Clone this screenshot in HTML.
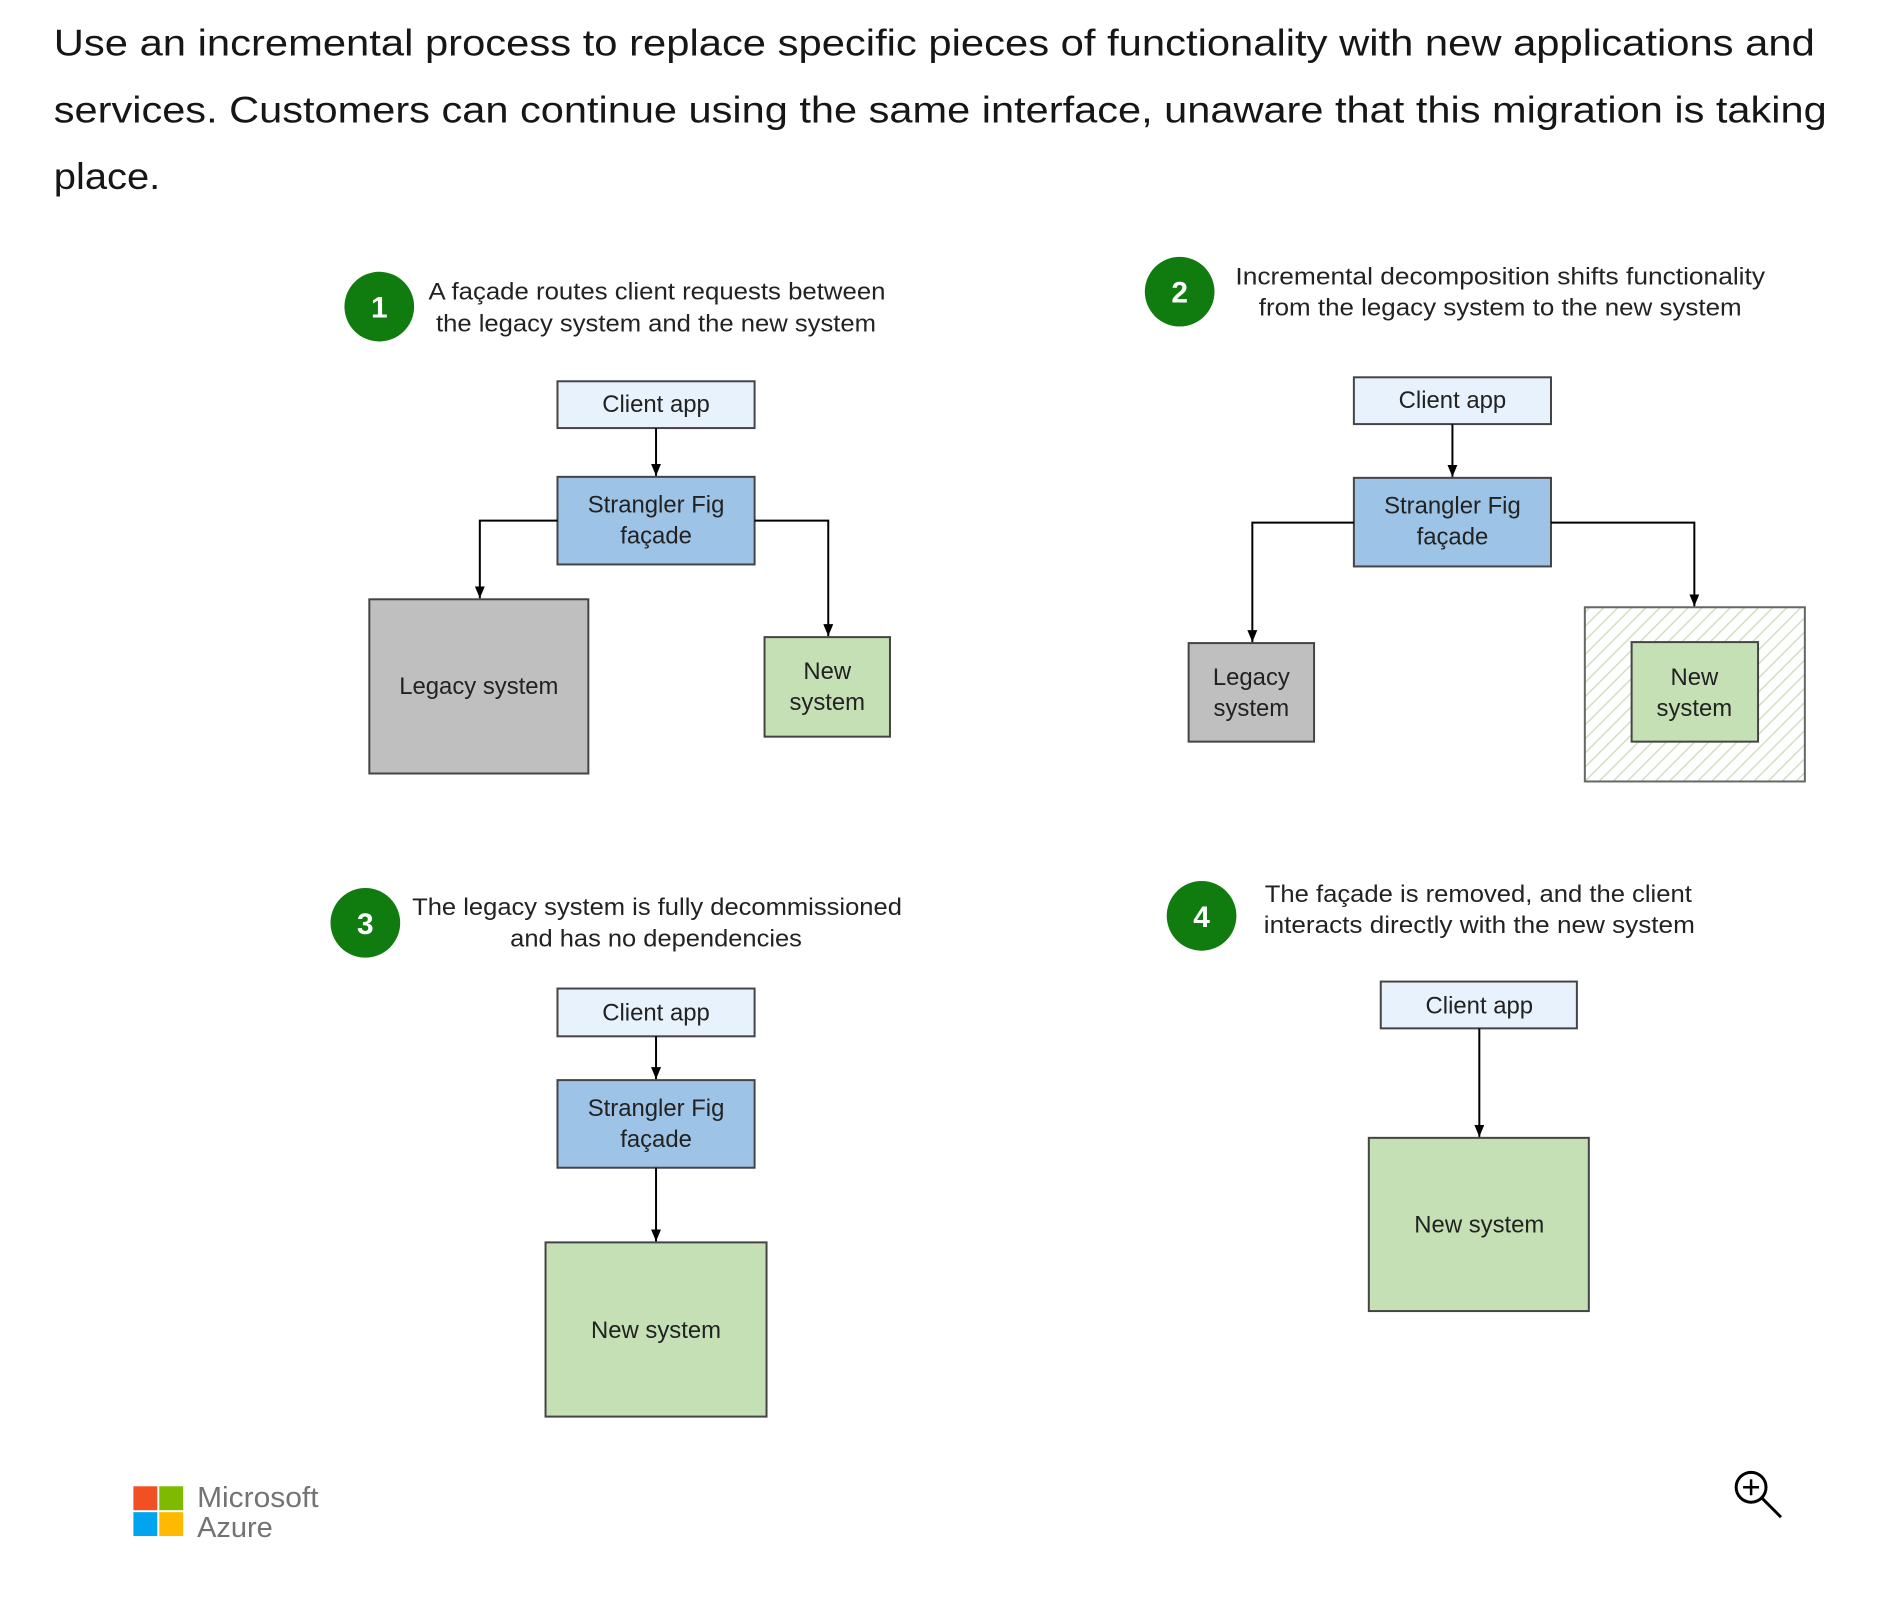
<!DOCTYPE html>
<html><head><meta charset="utf-8"><style>html,body{margin:0;padding:0;background:#fff}svg{display:block}</style></head>
<body>
<svg width="1883" height="1618" viewBox="0 0 1883 1618" xmlns="http://www.w3.org/2000/svg" font-family="Liberation Sans, sans-serif">
<defs>
<marker id="a" markerWidth="12" markerHeight="10" refX="12" refY="5" orient="auto" markerUnits="userSpaceOnUse"><path d="M0,0 L12,5 L0,10 Z" fill="#000"/></marker>
<pattern id="h" width="10" height="10" patternUnits="userSpaceOnUse" patternTransform="rotate(45)"><rect width="10" height="10" fill="#fff"/><line x1="0" y1="0" x2="0" y2="10" stroke="#cfe0c3" stroke-width="3"/></pattern>
</defs>
<g transform="scale(0.9955)">
<g font-size="37" fill="#161616">
<text x="54" y="56" textLength="1769" lengthAdjust="spacingAndGlyphs">Use an incremental process to replace specific pieces of functionality with new applications and</text>
<text x="54" y="123" textLength="1781" lengthAdjust="spacingAndGlyphs">services. Customers can continue using the same interface, unaware that this migration is taking</text>
<text x="54" y="190" textLength="107" lengthAdjust="spacingAndGlyphs">place.</text>
</g>
<g stroke="#444" stroke-width="2">
<rect x="560" y="383" width="198" height="47" fill="#e8f2fc"/>
<rect x="560" y="479" width="198" height="88" fill="#9dc3e6"/>
<rect x="371" y="602" width="220" height="175" fill="#bfbfbf"/>
<rect x="768" y="640" width="126" height="100" fill="#c5e0b4"/>
<rect x="1360" y="379" width="198" height="47" fill="#e8f2fc"/>
<rect x="1360" y="480" width="198" height="89" fill="#9dc3e6"/>
<rect x="1194" y="646" width="126" height="99" fill="#bfbfbf"/>
<rect x="1592" y="610" width="221" height="175" fill="url(#h)" stroke="#666"/>
<rect x="1639" y="645" width="127" height="100" fill="#c5e0b4"/>
<rect x="560" y="993" width="198" height="48" fill="#e8f2fc"/>
<rect x="560" y="1085" width="198" height="88" fill="#9dc3e6"/>
<rect x="548" y="1248" width="222" height="175" fill="#c5e0b4"/>
<rect x="1387" y="986" width="197" height="47" fill="#e8f2fc"/>
<rect x="1375" y="1143" width="221" height="174" fill="#c5e0b4"/>
</g>
<g stroke="#000" stroke-width="2" fill="none" marker-end="url(#a)">
<path d="M659,430 V478"/>
<path d="M560,523 H482 V601"/>
<path d="M758,523 H832 V639"/>
<path d="M1459,426 V479"/>
<path d="M1360,525 H1258 V645"/>
<path d="M1558,525 H1702 V609"/>
<path d="M659,1041 V1084"/>
<path d="M659,1173 V1247"/>
<path d="M1486,1033 V1142"/>
</g>
<g fill="#107c10">
<circle cx="381" cy="308" r="35"/><circle cx="1185" cy="293" r="35"/>
<circle cx="367" cy="927" r="35"/><circle cx="1207" cy="920" r="35"/>
</g>
<g fill="#fff" font-size="30" font-weight="bold" text-anchor="middle">
<text x="381" y="319">1</text><text x="1185" y="304">2</text>
<text x="367" y="938">3</text><text x="1207" y="931">4</text>
</g>
<g font-size="24" fill="#222" text-anchor="middle">
<text x="660" y="301" textLength="459" lengthAdjust="spacingAndGlyphs">A façade routes client requests between</text>
<text x="659" y="333" textLength="442" lengthAdjust="spacingAndGlyphs">the legacy system and the new system</text>
<text x="1507" y="286" textLength="532" lengthAdjust="spacingAndGlyphs">Incremental decomposition shifts functionality</text>
<text x="1507" y="317" textLength="485" lengthAdjust="spacingAndGlyphs">from the legacy system to the new system</text>
<text x="660" y="919" textLength="492" lengthAdjust="spacingAndGlyphs">The legacy system is fully decommissioned</text>
<text x="659" y="951" textLength="293" lengthAdjust="spacingAndGlyphs">and has no dependencies</text>
<text x="1485" y="906" textLength="429" lengthAdjust="spacingAndGlyphs">The façade is removed, and the client</text>
<text x="1486" y="937" textLength="433" lengthAdjust="spacingAndGlyphs">interacts directly with the new system</text>
<text x="659" y="414">Client app</text>
<text x="659" y="515">Strangler Fig</text><text x="659" y="546">façade</text>
<text x="481" y="697">Legacy system</text>
<text x="831" y="682">New</text><text x="831" y="713">system</text>
<text x="1459" y="410">Client app</text>
<text x="1459" y="516">Strangler Fig</text><text x="1459" y="547">façade</text>
<text x="1257" y="688">Legacy</text><text x="1257" y="719">system</text>
<text x="1702" y="688">New</text><text x="1702" y="719">system</text>
<text x="659" y="1025">Client app</text>
<text x="659" y="1121">Strangler Fig</text><text x="659" y="1152">façade</text>
<text x="659" y="1344">New system</text>
<text x="1486" y="1018">Client app</text>
<text x="1486" y="1238">New system</text>
</g>
<rect x="134" y="1493" width="24" height="24" fill="#f25022"/>
<rect x="160" y="1493" width="24" height="24" fill="#7fba00"/>
<rect x="134" y="1519" width="24" height="24" fill="#00a4ef"/>
<rect x="160" y="1519" width="24" height="24" fill="#ffb900"/>
<g fill="#737373" font-size="29">
<text x="198" y="1514" textLength="122" lengthAdjust="spacingAndGlyphs">Microsoft</text>
<text x="198" y="1544" textLength="76" lengthAdjust="spacingAndGlyphs">Azure</text>
</g>
<g stroke="#000" stroke-width="3" fill="none">
<circle cx="1759" cy="1494" r="15"/>
<line x1="1770" y1="1505" x2="1789" y2="1524"/>
<line x1="1751" y1="1494" x2="1767" y2="1494" stroke-width="2.5"/>
<line x1="1759" y1="1486" x2="1759" y2="1502" stroke-width="2.5"/>
</g>
</g>
</svg>
</body></html>
